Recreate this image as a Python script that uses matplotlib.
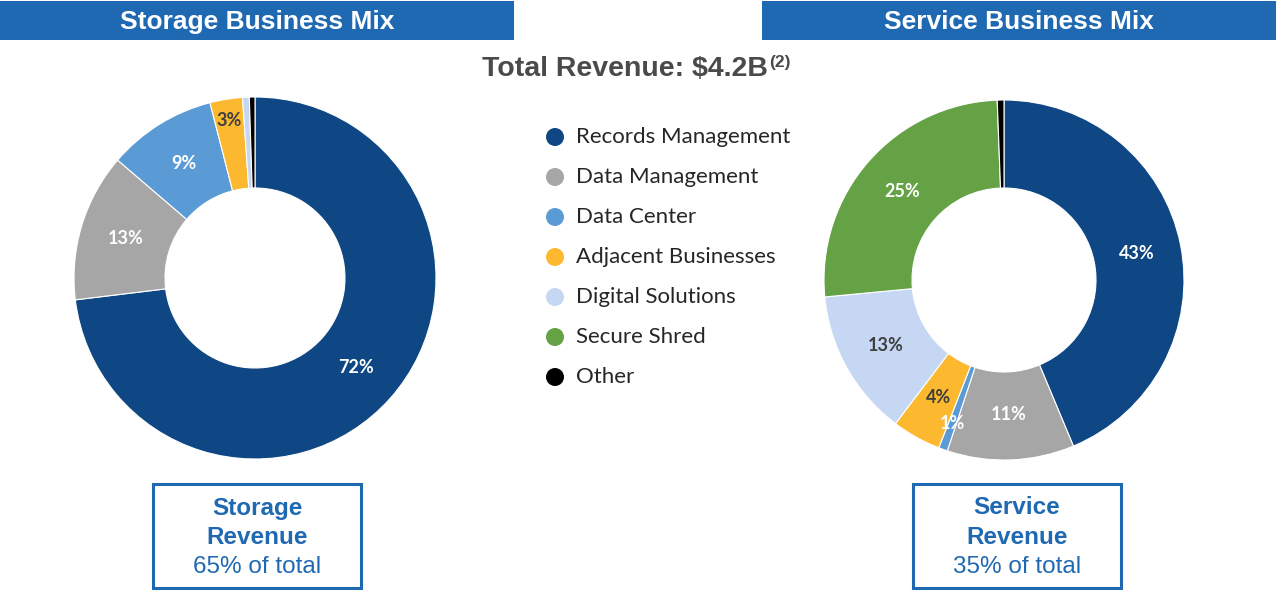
import numpy as np
import matplotlib
matplotlib.use('Agg')
import matplotlib.pyplot as plt
from matplotlib.patches import Rectangle, Circle

# categories shared by both donuts
categories = ['Records Management', 'Data Management', 'Data Center',
              'Adjacent Businesses', 'Digital Solutions', 'Secure Shred', 'Other']
colors = ['#0f4784', '#a6a6a6', '#5b9bd5', '#fcb82e', '#c5d7f2', '#65a145', '#000000']

# storage mix (share of storage revenue, %) - no secure shred
storage_values = [73.0, 13.2, 9.7, 2.9, 0.6, 0.0, 0.5]
storage_labels = ['72%', '13%', '9%', '3%', '', '', '']

# service mix (share of service revenue, %)
service_values = [43.7, 11.4, 0.8, 4.4, 13.2, 25.9, 0.6]
service_labels = ['43%', '11%', '1%', '4%', '13%', '25%', '']

total_revenue = '$4.2B'
storage_share = '65%'
service_share = '35%'

BLUE = '#1f69b3'
W, H = 1278, 594

fig = plt.figure(figsize=(12.78, 5.94), dpi=100)
ax = fig.add_axes([0, 0, 1, 1])


def donut(values, labels, center, radius, width, label_r):
    keep = [i for i, v in enumerate(values) if v > 0]
    vals = [values[i] for i in keep]
    cols = [colors[i] for i in keep]
    labs = [labels[i] for i in keep]
    wedges, _ = ax.pie(vals, colors=cols, startangle=90, counterclock=False,
                       center=center, radius=radius,
                       wedgeprops=dict(width=width, edgecolor='white', linewidth=0.8))
    for w, lab, i in zip(wedges, labs, keep):
        if not lab:
            continue
        ang = np.deg2rad((w.theta1 + w.theta2) / 2.0)
        r = label_r[i]
        x = center[0] + r * np.cos(ang)
        y = center[1] + r * np.sin(ang)
        c = '#3f3f3f' if categories[i] in ('Adjacent Businesses', 'Digital Solutions') else 'white'
        ax.text(x, y, lab, ha='center', va='center', fontsize=13,
                fontweight='bold', color=c, family='Lato')


# label radii (pixels from centre)
donut(storage_values, storage_labels, (255, 316), 181, 91,
      [135, 135, 135, 160, 135, 135, 135])
donut(service_values, service_labels, (1004, 314), 180, 88,
      [135, 135, 152, 135, 135, 135, 135])

# title banners
for x0, title in [(0, 'Storage Business Mix'), (762, 'Service Business Mix')]:
    ax.add_patch(Rectangle((x0, 554), 514, 39, facecolor=BLUE, edgecolor='none'))
    ax.text(x0 + 257, 572, title, ha='center', va='center', color='white',
            fontsize=19, fontweight='bold', family='Liberation Sans')

ax.text(768, 594 - 69, 'Total Revenue: ' + total_revenue, ha='right', va='center',
        color='#4a4a4a', fontsize=20.5, fontweight='bold', family='Liberation Sans')
ax.text(769, 594 - 62, '(2)', ha='left', va='center',
        color='#4a4a4a', fontsize=12.5, fontweight='bold', family='Liberation Sans')

# legend
for k, (cat, col) in enumerate(zip(categories, colors)):
    y = 594 - (137 + 40 * k)
    ax.add_patch(Circle((555, y), 9, facecolor=col, edgecolor='none'))
    ax.text(576, y, cat, ha='left', va='center', fontsize=16, color='#262626', family='Lato')

# revenue boxes
for x0, name, share in [(153, 'Storage', storage_share), (913, 'Service', service_share)]:
    ax.add_patch(Rectangle((x0, 6), 208, 104, facecolor='white', edgecolor=BLUE, linewidth=2.2))
    cx = x0 + 104
    ax.text(cx, 594 - 508, name, ha='center', va='center', color=BLUE,
            fontsize=17.5, fontweight='bold', family='Liberation Sans')
    ax.text(cx, 594 - 537, 'Revenue', ha='center', va='center', color=BLUE,
            fontsize=17.5, fontweight='bold', family='Liberation Sans')
    ax.text(cx, 594 - 567, share + ' of total', ha='center', va='center', color=BLUE,
            fontsize=17.5, family='Liberation Sans')

ax.set_xlim(0, W)
ax.set_ylim(0, H)
ax.set_aspect('equal')
ax.axis('off')

fig.savefig('out.png', dpi=100)
